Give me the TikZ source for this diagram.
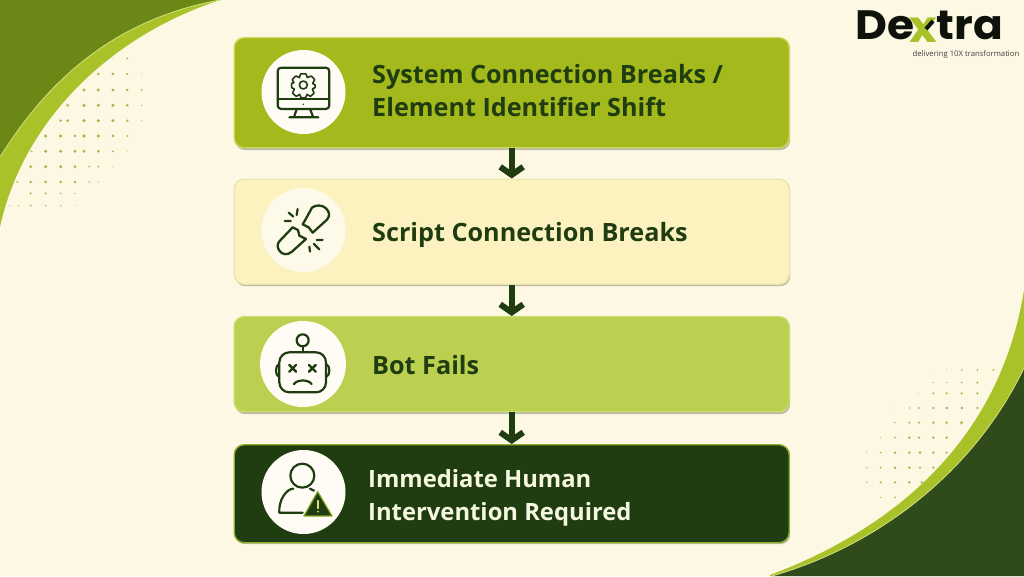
\documentclass[tikz,border=0pt]{standalone}
\usepackage{fontspec}
\setmainfont{Open Sans}
\newfontfamily\logofont{Poppins}
\usetikzlibrary{arrows.meta,calc}
\definecolor{bgc}{HTML}{FDF8E3}
\definecolor{darkg}{HTML}{1F3D10}
\definecolor{olive}{HTML}{6B8716}
\definecolor{lime}{HTML}{A9C229}
\definecolor{forest}{HTML}{2F4B1C}
\definecolor{paleedge}{HTML}{D5E27A}
\definecolor{dotc}{HTML}{A5B850}
\definecolor{edgeA}{HTML}{CBD75A}
\definecolor{edgeB}{HTML}{EDE5AE}
\definecolor{edgeC}{HTML}{C9DA68}
\definecolor{edgeD}{HTML}{8FB02B}
\definecolor{fillA}{HTML}{A3B91C}
\definecolor{fillB}{HTML}{FBF2C0}
\definecolor{fillC}{HTML}{BBD050}
\definecolor{whiteish}{HTML}{F5F7E1}
\definecolor{inkc}{HTML}{0E120A}
\tikzset{
  box/.style={draw=#1,line width=1.4pt,rounded corners=10pt,minimum width=555pt,inner sep=0pt,anchor=north west},
  shade box/.style={fill=#1,draw=none,rounded corners=10pt,minimum width=555pt,inner sep=0pt,anchor=north west},
  disc/.style={circle,fill=#1,draw=none,minimum size=84pt,inner sep=0pt},
  label/.style={anchor=west,align=left,inner sep=0pt,font=\fontsize{25.2}{33}\selectfont\bfseries,text=#1},
  flow/.style={draw=darkg,line width=6pt,-{Straight Barb[length=8pt,width=23pt,line width=6pt]}},
  ico/.style={draw=darkg,line width=2.2pt,line join=round,line cap=round},
  zone/.style={shift={#1},x=0.3333pt,y=-0.3333pt},
  logotext/.style={inner sep=0pt,xscale=1.07,transform shape,font=\logofont\fontsize{41}{41}\selectfont\bfseries,text=#1},
}
\begin{document}
\begin{tikzpicture}[x=1pt,y=-1pt]
\useasboundingbox (0,0) rectangle (1024,576);
\fill[bgc] (0,0) rectangle (1024,576);
% halftone dots
\begin{scope}[zone={(0,0)}]
\foreach \y/\l in {175/{382/1.0,340/.5},222/{295/1.4,339/1.5,382/1.1,425/.5},270/{252/1.7,295/1.6,339/1.7,382/1.4,425/.9},316/{203/1.5,252/1.8,295/1.7,339/1.7,382/1.4,425/.7},362/{182/1.4,203/1.5,252/1.8,295/1.7,339/1.7,382/1.3,425/.5},408/{137/1.7,182/1.7,225/1.5,252/1.8,295/1.7,339/1.5,382/1.0},454/{95/1.0,137/1.7,182/1.7,225/1.6,252/1.6,295/1.5,339/1.0,382/.4},500/{92/1.5,137/1.7,182/1.7,225/1.6,268/1.0,295/1.0,339/.6},546/{52/1.0,92/1.4,137/1.5,182/1.4,225/1.3,268/.9,295/.6},580/{92/1.1,137/1.1,182/.9,225/.7},617/{30/.6,55/.6,92/1.0,137/.9,182/.8,225/.5}}
  \foreach \x/\r in \l \fill[dotc] (\x,\y) circle[radius=\r pt];
\end{scope}
\begin{scope}[zone={(760,290)}]
\foreach \y/\l in {240/{520/.4,560/.5,605/.9,652/1.0,700/1.0},278/{520/.6,560/.7,605/.9,652/1.1},310/{475/.5,520/1.1,560/1.2,605/1.2,652/1.2},354/{405/.4,448/.8,477/1.1,520/1.3,560/1.4,605/1.4,652/1.2},398/{405/.8,448/1.1,477/1.1,520/1.4,560/1.4,605/1.6},443/{362/.5,405/1.0,448/1.3,477/1.3,520/1.4,560/1.4},488/{320/.5,362/.9,405/1.4,448/1.4,480/1.5,520/1.4,560/1.2},533/{320/.8,362/1.1,405/1.4,448/1.4,480/1.3,520/1.3},577/{320/.8,362/1.2,405/1.2,448/1.3,485/1.2},622/{362/.6,405/1.0}}
  \foreach \x/\r in \l \fill[dotc] (\x,\y) circle[radius=\r pt];
\end{scope}
% top-left swoosh
\fill[lime] (0,0) -- (220,0) .. controls (105,38) and (22,125) .. (0,227) -- cycle;
\fill[olive] (0,0) -- (220,0) .. controls (110,20) and (45,85) .. (0,157) -- cycle;
\draw[paleedge,line width=.8pt] (220,0) .. controls (110,20) and (45,85) .. (0,157);
% bottom-right swoosh
\fill[lime] (1024,576) -- (1024,290) .. controls (1000,440) and (895,528) .. (770,575) -- (770,576) -- cycle;
\fill[forest] (1024,576) -- (1024,368) .. controls (975,470) and (880,545) .. (772,576) -- cycle;
\draw[paleedge,line width=.8pt] (1024,368) .. controls (975,470) and (880,545) .. (772,576);
% cards
\node[shade box=black!45!bgc,opacity=.55,minimum height=111pt] (s1) at (235,39) {};
\node[shade box=black!45!bgc,opacity=.55,minimum height=106pt] (s2) at (235,180) {};
\node[shade box=black!45!bgc,opacity=.55,minimum height=96pt] (s3) at (235,318) {};
\node[shade box=black!45!bgc,opacity=.55,minimum height=99pt] (s4) at (235,445) {};
\node[box=edgeA,fill=fillA,minimum height=110pt] (b1) at (233.5,37) {};
\node[box=edgeB,fill=fillB,minimum height=105pt] (b2) at (233.5,178.5) {};
\node[box=edgeC,fill=fillC,minimum height=95pt] (b3) at (233.5,316) {};
\node[box=edgeD,fill=darkg,minimum height=98pt] (b4) at (233.5,444) {};
% connectors
\draw[flow] (b1.south) -- (b2.north);
\draw[flow] (b2.south) -- (b3.north);
\draw[flow] (b3.south) -- (b4.north);
% discs
\node[disc=bgc!40!white] (c1) at (303.5,92) {};
\node[disc=bgc!75!white] (c2) at (303.5,230) {};
\node[disc=bgc!40!white,minimum size=86pt] (c3) at (303,364) {};
\node[disc=bgc!40!white] (c4) at (303.5,492) {};
% labels
\node[label=darkg] (t1) at (372,91) {System Connection Breaks /\\Element Identifier Shift};
\node[label=darkg] (t2) at (372,235) {Script Connection Breaks};
\node[label=darkg] (t3) at (372,365) {Bot Fails};
\node[label=whiteish,font=\fontsize{23.8}{33}\selectfont\bfseries] (t4) at (368,498) {Immediate Human\\Intervention Required};
% monitor icon
\begin{scope}[zone={(230,30)}]
\draw[ico,rounded corners=3.5pt] (143,113) rectangle (298,237);
\draw[ico] (143,208) -- (298,208);
\draw[ico] (200,237) -- (192,262) (240,237) -- (250,262) (178,262) -- (265,262);
\fill[darkg] (220,223) circle[radius=.8pt];
\draw[ico,line width=1.6pt] (220,165) circle[radius=12];
\draw[ico,line width=1.6pt] plot[smooth cycle,tension=.25] coordinates {(212,132)(228,132)(232,143)(243,138)(254,149)(248,160)(255,165)(255,173)(247,177)(252,189)(241,199)(231,193)(227,203)(213,203)(209,193)(199,199)(188,189)(193,177)(185,173)(185,160)(192,158)(187,149)(198,138)(208,143)};
% broken chain icon
\draw[ico,line width=2.3pt] (246,533) .. controls (258,524) and (276,524) .. (288,535) .. controls (300,546) and (300,560) .. (290,570) -- (248,608) -- (236,592) -- (218,583) -- (228,566) -- cycle;
\draw[ico,line width=2.3pt] (150,632) -- (188,592) -- (204,600) -- (208,617) -- (228,627) -- (186,665) .. controls (172,677) and (156,674) .. (148,662) .. controls (140,650) and (142,640) .. (150,632) -- cycle;
\draw[ico] (176,548) -- (190,560) (203,537) -- (200,555) (164,573) -- (182,573) (260,630) -- (278,630) (252,642) -- (268,658) (238,650) -- (240,665);
\end{scope}
% robot and person icons
\begin{scope}[zone={(230,300)}]
\draw[ico] (218,121) circle[radius=6pt];
\draw[ico] (218,139) -- (218,157);
\draw[ico,rounded corners=10pt] (148,157) rectangle (288,277);
\draw[ico] (147,193) .. controls (135,195) and (135,228) .. (147,230);
\draw[ico] (289,193) .. controls (301,195) and (301,228) .. (289,230);
\draw[ico,line width=2.4pt] (178,195) -- (198,215) (178,215) -- (198,195) (237,195) -- (257,215) (237,215) -- (257,195);
\draw[ico] (192,252) .. controls (202,238) and (235,238) .. (245,252);
\draw[ico] (217,527) circle[radius=12pt];
\draw[ico] (148,638) .. controls (145,600) and (170,566) .. (190,566) (240,566) -- (252,572) (148,638) -- (218,638);
\fill[darkg,draw=olive!60!lime,line width=1.2pt,line join=round] (263,575) -- (306,648) -- (222,648) -- cycle;
\draw[paleedge,line width=1.5pt,line cap=round] (264,602) -- (264,625);
\fill[paleedge] (264,635) circle[radius=1pt];
\end{scope}
% logo
\node[logotext=inkc,anchor=base west] (logoA) at (855,39) {De};
\node[logotext=lime,anchor=base,font=\logofont\fontsize{44}{44}\selectfont\bfseries] (logoB) at (923,42) {x};
\node[logotext=inkc,anchor=base east] (logoC) at (1003,39) {tra};
\draw[inkc,line width=4pt] (926,29) -- (933,21);
\node[anchor=east,inner sep=0pt,text=black!75,font=\fontsize{7.7}{9}\selectfont] (tag) at (1019.5,54) {delivering 10X transformation};
\end{tikzpicture}
\end{document}
